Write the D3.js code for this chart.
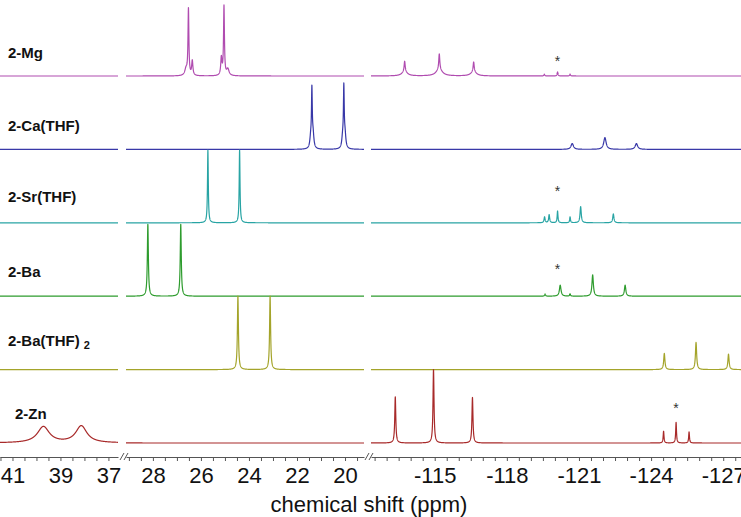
<!DOCTYPE html>
<html lang="en">
<head>
    <meta charset="UTF-8">
    <title>NMR stack</title>
    <script src="https://cdn.jsdelivr.net/npm/d3@7/dist/d3.min.js"></script>
    <style>
        body { margin: 0; background: #fff; }
        text { font-family: Arial, "Liberation Sans", sans-serif; }
    </style>
</head>
<body>
<script>
    // compounds, top to bottom
    const names = ["2-Mg", "2-Ca(THF)", "2-Sr(THF)", "2-Ba", "2-Ba(THF)", "2-Zn"];
    const subs = ["", "", "", "", "2", ""];
    const colors = ["#b04cb0", "#3838a8", "#28a4a4", "#2e9c2e", "#a4a42a", "#a82a2a"];

    // axis pieces (ppm) and tick labels
    const domainLeft = [41.52, 36.6];
    const domainMid = [29.12, 19.21];
    const domainRight = [-112.35, -127.74];
    const ticksLeft = [41, 39, 37];
    const ticksMid = [28, 26, 24, 22, 20];
    const ticksRight = [-115, -118, -121, -124, -127];

    // peaks: [ppm, height (1 = one row), half width (ppm)]
    const peaksMg = [
        [26.52, 0.9, 0.022], [26.36, 0.2, 0.03], [26.62, 0.09, 0.06],
        [25.04, 0.94, 0.022], [25.15, 0.24, 0.03], [24.88, 0.09, 0.06],
        [-113.75, 0.14, 0.025], [-113.75, 0.06, 0.13],
        [-115.19, 0.21, 0.025], [-115.19, 0.09, 0.15],
        [-116.62, 0.13, 0.025], [-116.62, 0.06, 0.13],
        [-119.56, 0.025, 0.02], [-120.11, 0.055, 0.02], [-120.63, 0.025, 0.02]
    ];
    const peaksCa = [
        [21.38, 0.75, 0.02], [21.33, 0.18, 0.04], [21.43, 0.14, 0.04],
        [20.05, 0.78, 0.02], [20.0, 0.18, 0.04], [20.1, 0.14, 0.04],
        [-120.72, 0.08, 0.06], [-122.08, 0.16, 0.06], [-123.39, 0.08, 0.06]
    ];
    const peaksSr = [
        [25.71, 0.99, 0.02], [24.39, 0.99, 0.02],
        [-119.57, 0.08, 0.025], [-119.76, 0.11, 0.025], [-120.11, 0.16, 0.02],
        [-120.63, 0.08, 0.02], [-121.07, 0.22, 0.03], [-122.43, 0.12, 0.03]
    ];
    const peaksBa = [
        [28.21, 0.98, 0.025], [26.84, 0.98, 0.025],
        [-119.59, 0.03, 0.02], [-120.22, 0.15, 0.04], [-120.63, 0.03, 0.02],
        [-121.57, 0.29, 0.035], [-122.92, 0.15, 0.035]
    ];
    const peaksBaTHF = [
        [24.46, 1.0, 0.025], [23.12, 1.0, 0.025],
        [-124.55, 0.22, 0.03], [-125.87, 0.37, 0.03], [-127.22, 0.21, 0.03]
    ];
    const peaksZn = [
        [39.71, 0.22, 0.3], [38.13, 0.23, 0.28],
        [-113.36, 0.63, 0.025], [-114.95, 1.0, 0.025], [-116.57, 0.62, 0.025],
        [-124.52, 0.16, 0.02], [-125.04, 0.28, 0.02], [-125.58, 0.15, 0.02]
    ];
    const peaks = [peaksMg, peaksCa, peaksSr, peaksBa, peaksBaTHF, peaksZn];

    // marked solvent peak (*): [row, ppm, height]
    const stars = [[0, -120.11, 0.25], [2, -120.11, 0.48], [3, -120.11, 0.41], [5, -125.04, 0.52]];

    let width = 741, height = 517;
    let top0 = 76, rowGap = 73.4, axisY = 457;
    let labelLift = [18, 18, 21, 19, 24, 24];

    let svg = d3.select("body").append("svg")
        .attr("width", width)
        .attr("height", height);

    let xs = [
        d3.scaleLinear().domain(domainLeft).range([0, 118]),
        d3.scaleLinear().domain(domainMid).range([126, 364]),
        d3.scaleLinear().domain(domainRight).range([371, 741])
    ];
    let tickSets = [ticksLeft, ticksMid, ticksRight];

    function lorentz(p, x) {
        let s = 0;
        p.forEach(([c, h, w]) => { s += h * w * w / ((x - c) * (x - c) + w * w); });
        return s;
    }

    names.forEach((name, i) => {
        let base = top0 + i * rowGap;
        let y = d3.scaleLinear().domain([0, 1]).range([base, base - rowGap]);
        let line = d3.line().x(d => d[0]).y(d => y(d[1]));

        xs.forEach(x => {
            let [a, b] = x.domain();
            let pts = d3.range(b, a, 0.004);
            peaks[i].forEach(pk => { if (pk[0] <= a && pk[0] >= b) pts.push(pk[0]); });
            pts.push(a);
            pts.sort((u, v) => u - v);
            let data = pts.map(p => [x(p), lorentz(peaks[i], p)]);
            svg.append("path")
                .attr("d", line(data))
                .attr("fill", "none")
                .attr("stroke", colors[i])
                .attr("stroke-width", 1.2)
                .attr("stroke-linejoin", "round");
        });

        let t = svg.append("text")
            .attr("x", i === 5 ? 15 : 8)
            .attr("y", base - labelLift[i])
            .attr("font-size", 15)
            .attr("font-weight", "bold")
            .attr("fill", "#111")
            .text(name);
        if (subs[i]) {
            t.append("tspan").text(" ");
            t.append("tspan").attr("font-size", 11).attr("dy", 3).text(subs[i]);
        }
    });

    stars.forEach(([row, ppm, h]) => {
        let base = top0 + row * rowGap;
        let y = d3.scaleLinear().domain([0, 1]).range([base, base - rowGap]);
        svg.append("text")
            .attr("x", xs[2](ppm))
            .attr("y", y(h) + 8)
            .attr("text-anchor", "middle")
            .attr("font-size", 14)
            .attr("fill", "#333")
            .text("*");
    });

    // broken x axis
    xs.forEach((x, k) => {
        let [a, b] = x.domain();
        let minor = d3.range(Math.ceil(b * 2) / 2, a + 0.001, 0.5);
        let labels = tickSets[k];
        let g = svg.append("g")
            .attr("transform", `translate(0, ${axisY})`)
            .call(d3.axisBottom(x)
                .tickValues(minor)
                .tickSizeInner(4)
                .tickSizeOuter(0)
                .tickPadding(6)
                .tickFormat(v => labels.some(l => Math.abs(l - v) < 0.01) ? d3.format("d")(v).replace("\u2212", "-") : ""));
        g.select(".domain").attr("stroke", "#555");
        g.selectAll(".tick line").attr("stroke", "#555");
        g.selectAll(".tick text").attr("font-size", 22).attr("fill", "#111")
            .attr("font-family", "Arial, 'Liberation Sans', sans-serif");
    });

    // break marks
    [120, 365].forEach(bx => {
        [0, 4].forEach(off => {
            svg.append("line")
                .attr("x1", bx + off).attr("y1", axisY + 3)
                .attr("x2", bx + off + 4).attr("y2", axisY - 4)
                .attr("stroke", "#555").attr("stroke-width", 1);
        });
    });

    svg.append("text")
        .attr("x", 369)
        .attr("y", 512)
        .attr("text-anchor", "middle")
        .attr("font-size", 22)
        .attr("fill", "#111")
        .text("chemical shift (ppm)");
</script>
</body>
</html>
